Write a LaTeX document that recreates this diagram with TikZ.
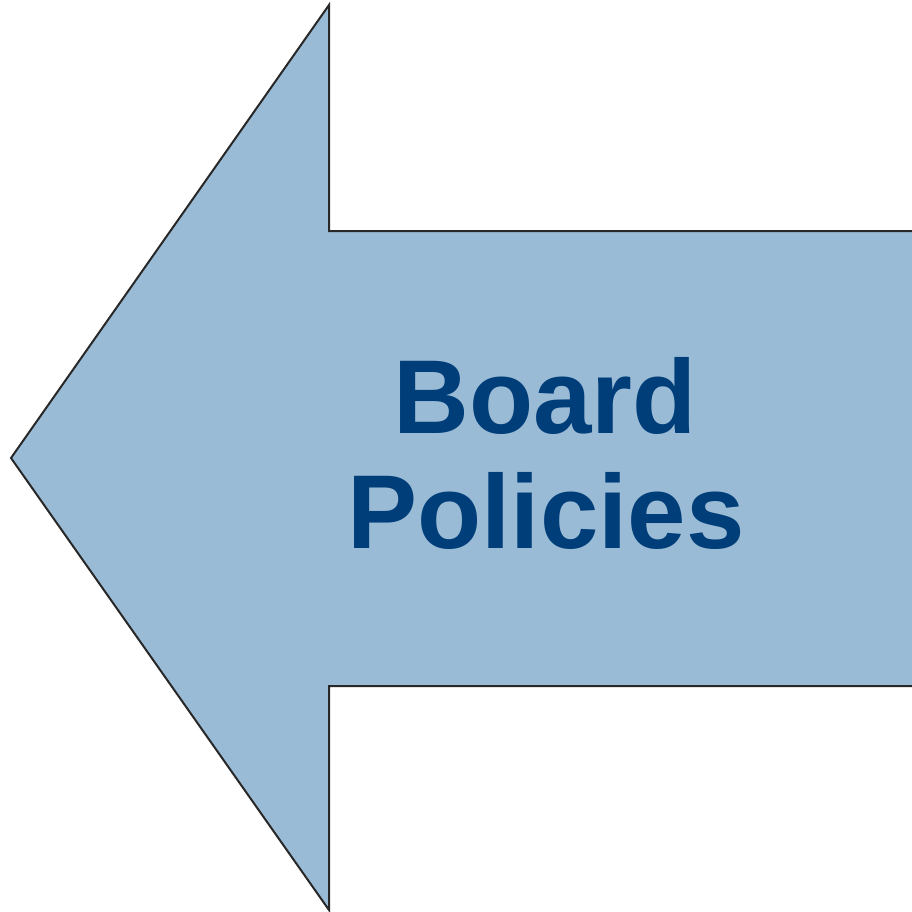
\documentclass[tikz,border=0pt]{standalone}
\usepackage{fontspec}
\setmainfont{Liberation Sans}
\definecolor{arrowfill}{RGB}{154,187,213}
\definecolor{arrowline}{RGB}{40,40,40}
\definecolor{textblue}{RGB}{0,62,122}
\begin{document}
\begin{tikzpicture}[x=1pt,y=-1pt,
  bigarrow/.style={fill=arrowfill,draw=arrowline,line width=2pt,line join=miter},
  label/.style={text=textblue,font=\fontsize{105}{115}\selectfont\bfseries,anchor=base,inner sep=0pt}]
\useasboundingbox (0,0) rectangle (912,912);
\draw[bigarrow] (925,231) -- (329,231) -- (329,5) -- (11,458) -- (329,910) -- (329,686) -- (925,686);
\node[label] (board) at (545,433) {Board};
\node[label] (policies) at (546,548) {Policies};
\end{tikzpicture}
\end{document}
